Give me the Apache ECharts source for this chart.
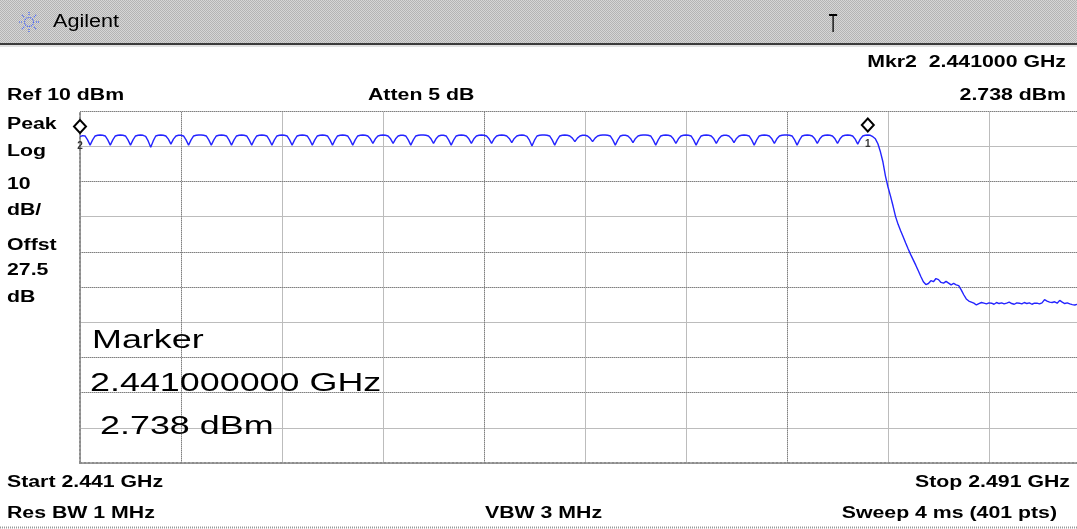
<!DOCTYPE html>
<html>
<head>
<meta charset="utf-8">
<script src="https://cdn.jsdelivr.net/npm/echarts@6/dist/echarts.min.js"></script>
<style>
  html, body { margin: 0; padding: 0; background: #fff; }
  #chart { width: 1077px; height: 529px; }
</style>
</head>
<body>
<div id="chart"></div>
<script>
// sweep of 401 points, 2.441 GHz .. 2.491 GHz, level in dBm
const levels = [
  2.74, 3.0, 2.9, 1.8, 0.3,
  1.8, 2.9, 3.1, 3.2, 3.1, 2.9, 1.8, 0.3,
  1.8, 2.9, 3.1, 3.2, 3.1, 2.9, 1.8, 0.3,
  1.8, 2.9, 3.1, 3.2, 3.1, 2.8, 1.5, -0.3,
  1.5, 2.9, 3.1, 3.2, 3.1, 2.9, 2.0, 0.6,
  2.0, 2.9, 3.1, 3.1, 2.9, 1.8, 0.3,
  1.8, 2.9, 3.1, 3.2, 3.2, 3.1, 2.9, 1.8, 0.3,
  1.8, 2.9, 3.1, 3.2, 3.1, 2.9, 1.8, 0.3,
  1.8, 2.9, 3.1, 3.2, 3.1, 2.9, 1.8, 0.3,
  1.8, 2.9, 3.1, 3.2, 3.1, 2.9, 1.8, 0.3,
  1.8, 2.9, 3.1, 3.2, 3.1, 2.9, 1.8, 0.3,
  1.8, 2.9, 3.1, 3.2, 3.1, 2.9, 1.8, 0.3,
  1.8, 2.9, 3.1, 3.2, 3.1, 2.9, 1.8, 0.3,
  1.8, 2.9, 3.1, 3.2, 3.1, 2.9, 1.8, 0.3,
  1.8, 2.9, 3.1, 3.2, 3.1, 2.9, 2.1, 0.8,
  2.1, 2.9, 3.1, 3.2, 3.1, 2.9, 2.1, 0.8,
  2.1, 2.9, 3.1, 3.1, 2.9, 1.8, 0.3,
  1.8, 2.9, 3.1, 3.2, 3.2, 3.1, 2.9, 2.1, 0.8,
  2.1, 2.9, 3.1, 3.1, 2.9, 1.8, 0.3,
  1.8, 2.9, 3.1, 3.2, 3.1, 2.9, 2.1, 0.8,
  2.1, 2.9, 3.1, 3.2, 3.1, 2.9, 2.1, 0.8,
  2.1, 2.9, 3.1, 3.2, 3.1, 2.9, 2.2, 1.0,
  2.2, 2.9, 3.1, 3.2, 3.1, 2.8, 1.7, 0.1,
  1.7, 2.9, 3.1, 3.2, 3.2, 3.1, 2.9, 1.8, 0.3,
  1.8, 2.9, 3.1, 3.2, 3.1, 2.9, 2.3, 1.3,
  2.3, 2.9, 3.1, 3.1, 2.9, 2.3, 1.3,
  2.3, 2.9, 3.1, 3.2, 3.2, 3.1, 2.9, 1.8, 0.3,
  1.8, 2.9, 3.1, 3.1, 2.9, 2.2, 1.0,
  2.2, 2.9, 3.1, 3.2, 3.2, 3.1, 2.9, 1.8, 0.3,
  1.8, 2.9, 3.1, 3.2, 3.1, 2.9, 2.1, 0.8,
  2.1, 2.9, 3.1, 3.2, 3.1, 2.9, 1.8, 0.3,
  1.8, 2.9, 3.1, 3.2, 3.1, 2.9, 2.1, 0.8,
  2.1, 2.9, 3.1, 3.1, 2.9, 2.2, 1.0,
  2.2, 2.9, 3.1, 3.2, 3.1, 2.9, 1.8, 0.3,
  1.8, 2.9, 3.1, 3.2, 3.1, 2.9, 2.1, 0.8,
  2.1, 2.9, 3.1, 3.2, 3.2, 3.1, 2.9, 1.8, 0.3,
  1.8, 2.9, 3.1, 3.2, 3.1, 2.9, 2.1, 0.8,
  2.1, 2.9, 3.1, 3.2, 3.1, 2.9, 2.1, 0.8,
  2.1, 2.9, 3.1, 3.2, 3.1, 2.9, 2.0, 0.6,
  2.0, 2.9, 3.1, 3.2, 3.1,
  2.7, 2.1, 0.7, -1.6, -4.5, -8.5, -11.6, -14.2, -17.0, -20.0,
  -22.2, -24.0, -25.7, -27.5, -29.2, -30.8, -32.3, -33.8, -35.4, -37.0,
  -38.5, -39.3, -39.0, -38.2, -38.5, -37.6, -37.9, -38.7, -38.9, -38.4,
  -38.9, -39.4, -39.0, -39.4, -39.6, -40.8, -42.2, -43.4, -44.0, -44.3,
  -44.6, -45.1, -44.7, -44.4, -44.6,
  -44.8, -44.5, -44.6, -44.9, -44.4, -44.7, -44.5, -44.8, -44.6, -44.3,
  -44.7, -44.9, -44.5, -44.6, -44.8, -44.4, -44.7, -44.5, -44.9, -44.6,
  -44.6, -44.8, -44.5, -43.6, -44.0, -44.3, -44.4, -44.2, -44.6, -43.8,
  -44.3, -44.7, -44.5, -44.8, -45.0, -45.1, -44.9, -44.7, -44.8, -45.0,
  -44.9, -44.8
]

// markers: sweep point index and its label
const markerPoints = [0, 312]
const markerNames = ['2', '1']

const leftLabels = ['Peak', 'Log', '10', 'dB/', 'Offst', '27.5', 'dB']
const leftLabelY = [125, 152, 185, 211, 246, 271, 298]

// graticule lines that the screen shows dotted
const dottedCols = [40, 160, 280]
const dottedRows = [10, -10, -30, -40, -60, -70]

const BOLD = 'bold 16px "Liberation Sans", Arial, sans-serif'
const BIG = '26px "Liberation Sans", Arial, sans-serif'

function txt (text, x, y, font, align, sx) {
  return {
    type: 'text', x: x, y: y, scaleX: sx || 1.33, z: 10,
    style: { text: text, font: font || BOLD, fill: '#000', textAlign: align || 'left', textVerticalAlign: 'middle' }
  }
}

// stippled grey for the title bar
const pat = document.createElement('canvas')
pat.width = 2
pat.height = 2
const pc = pat.getContext('2d')
pc.fillStyle = '#d6d6d6'
pc.fillRect(0, 0, 2, 2)
pc.fillStyle = '#b4b4b4'
pc.fillRect(0, 0, 1, 1)
pc.fillRect(1, 1, 1, 1)

const rays = []
for (let a = 0; a < 8; a++) {
  const t = a * Math.PI / 4
  rays.push({
    type: 'line',
    shape: { x1: Math.cos(t) * 7, y1: Math.sin(t) * 7, x2: Math.cos(t) * 11, y2: Math.sin(t) * 11 },
    style: { stroke: '#3a5cff', lineWidth: 1.2, lineDash: [1, 1] }
  })
}

const graphics = [
  { type: 'rect', shape: { x: 0, y: 0, width: 1077, height: 43 }, style: { fill: { image: pat, repeat: 'repeat' } } },
  { type: 'rect', shape: { x: 0, y: 43, width: 1077, height: 2 }, style: { fill: '#3c3c3c' } },
  { type: 'rect', shape: { x: 0, y: 45, width: 1077, height: 2 }, style: { fill: '#e2e2e2' } },
  {
    type: 'group', x: 29, y: 22,
    children: [{ type: 'circle', shape: { cx: 0, cy: 0, r: 4.5 }, style: { fill: 'none', stroke: '#3a5cff', lineWidth: 1.2, lineDash: [1, 1] } }].concat(rays)
  },
  txt('Agilent', 53, 22, '18px "Liberation Sans", Arial, sans-serif', 'left', 1.2),
  txt('T', 833, 25, '26px "Liberation Sans", Arial, sans-serif', 'center', 0.55),
  txt('Mkr2  2.441000 GHz', 1066, 63, BOLD, 'right'),
  txt('Ref 10 dBm', 7, 96),
  txt('Atten 5 dB', 368, 96),
  txt('2.738 dBm', 1066, 96, BOLD, 'right'),
  txt('Marker', 92, 341, BIG, 'left', 1.38),
  txt('2.441000000 GHz', 90, 384, BIG, 'left', 1.38),
  txt('2.738 dBm', 100, 427, BIG, 'left', 1.38),
  txt('Start 2.441 GHz', 7, 483),
  txt('Stop 2.491 GHz', 1070, 483, BOLD, 'right'),
  txt('Res BW 1 MHz', 7, 514),
  txt('VBW 3 MHz', 485, 514),
  txt('Sweep 4 ms (401 pts)', 1057, 514, BOLD, 'right'),
  { type: 'line', shape: { x1: 0, y1: 527.5, x2: 1077, y2: 527.5 }, style: { stroke: '#9a9a9a', lineWidth: 2, lineDash: [1, 1] } }
]
leftLabels.forEach((s, i) => graphics.push(txt(s, 7, leftLabelY[i])))

const chart = echarts.init(document.getElementById('chart'))
chart.setOption({
  animation: false,
  backgroundColor: '#fff',
  grid: { left: 80, top: 111, width: 1010, height: 352, outerBoundsMode: 'none' },
  xAxis: {
    type: 'value', min: 0, max: 400, interval: 40,
    axisLabel: { show: false }, axisTick: { show: false },
    axisLine: { show: true, onZero: false, lineStyle: { color: '#8c8c8c', width: 2, type: 'dotted' } },
    splitLine: { show: true, lineStyle: { color: '#bcbcbc', width: 1 } }
  },
  yAxis: {
    type: 'value', min: -90, max: 10, interval: 10,
    axisLabel: { show: false }, axisTick: { show: false },
    axisLine: { show: true, lineStyle: { color: '#8c8c8c', width: 2, type: 'dotted' } },
    splitLine: { show: true, lineStyle: { color: '#bcbcbc', width: 1 } }
  },
  series: [{
    type: 'line',
    data: levels.map((v, i) => [i, v]),
    showSymbol: false,
    z: 3,
    lineStyle: { color: '#2424ff', width: 1.4 },
    markLine: {
      silent: true,
      symbol: 'none',
      z: 1,
      label: { show: false },
      lineStyle: { color: '#808080', width: 1, type: [1, 1] },
      data: dottedCols.map(v => ({ xAxis: v })).concat(dottedRows.map(v => ({ yAxis: v })))
    },
    markPoint: {
      symbol: 'diamond',
      symbolSize: [12, 13],
      symbolOffset: [0, -10],
      itemStyle: { color: '#fff', borderColor: '#000', borderWidth: 2 },
      label: { show: true, position: 'bottom', distance: 7, formatter: '{b}', color: '#333', fontSize: 10, fontWeight: 'bold', fontFamily: 'Liberation Sans' },
      data: markerPoints.map((p, i) => ({ name: markerNames[i], coord: [p, levels[p]] }))
    }
  }],
  graphic: graphics
})
</script>
</body>
</html>
